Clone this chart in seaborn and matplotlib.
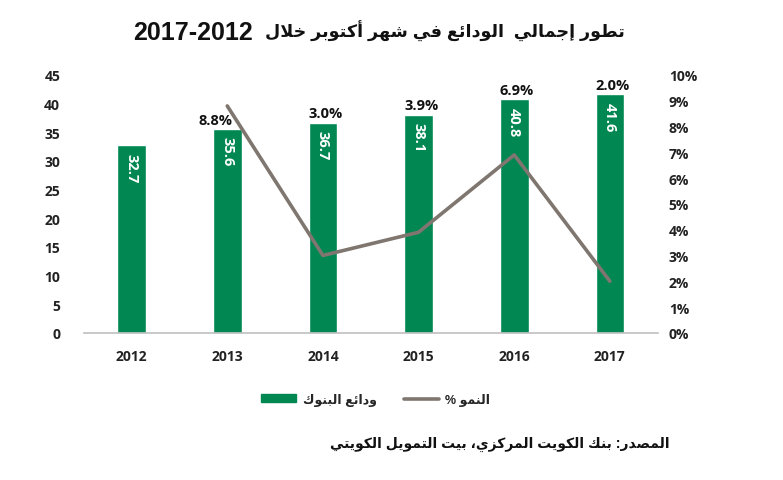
import matplotlib
matplotlib.use("Agg")
import matplotlib.pyplot as plt
import seaborn as sns
import pandas as pd
from matplotlib.lines import Line2D
from matplotlib.patches import Patch

sns.set_theme(style="white")
plt.rcParams['font.family'] = ['Open Sans', 'DejaVu Sans']

# data
years = ["2012", "2013", "2014", "2015", "2016", "2017"]
deposits = [32.7, 35.6, 36.7, 38.1, 40.8, 41.6]
growth_years = ["2013", "2014", "2015", "2016", "2017"]
growth = [8.8, 3.0, 3.9, 6.9, 2.0]
left_ticks = list(range(0, 50, 5))
right_ticks = list(range(0, 11))

title_ar = "تطور إجمالي  الودائع في شهر أكتوبر خلال"
title_years = "2017-2012"
legend_bars = "ودائع البنوك"
legend_line = "النمو"
source_ar = "المصدر: بنك الكويت المركزي، بيت التمويل الكويتي"

GREEN = "#018752"
GREY = "#7E766F"

# small arabic shaper (matplotlib has no bidi / joining support)
_forms = {
    'ء': (0xFE80, False), 'آ': (0xFE81, False), 'أ': (0xFE83, False),
    'ؤ': (0xFE85, False), 'إ': (0xFE87, False), 'ئ': (0xFE89, True),
    'ا': (0xFE8D, False), 'ب': (0xFE8F, True), 'ة': (0xFE93, False),
    'ت': (0xFE95, True), 'ث': (0xFE99, True), 'ج': (0xFE9D, True),
    'ح': (0xFEA1, True), 'خ': (0xFEA5, True), 'د': (0xFEA9, False),
    'ذ': (0xFEAB, False), 'ر': (0xFEAD, False), 'ز': (0xFEAF, False),
    'س': (0xFEB1, True), 'ش': (0xFEB5, True), 'ص': (0xFEB9, True),
    'ض': (0xFEBD, True), 'ط': (0xFEC1, True), 'ظ': (0xFEC5, True),
    'ع': (0xFEC9, True), 'غ': (0xFECD, True), 'ف': (0xFED1, True),
    'ق': (0xFED5, True), 'ك': (0xFED9, True), 'ل': (0xFEDD, True),
    'م': (0xFEE1, True), 'ن': (0xFEE5, True), 'ه': (0xFEE9, True),
    'و': (0xFEED, False), 'ى': (0xFEEF, False), 'ي': (0xFEF1, True),
}
_lamalef = {'آ': 0xFEF5, 'أ': 0xFEF7, 'إ': 0xFEF9, 'ا': 0xFEFB}


def rtl(text):
    out = []
    i = 0
    n = len(text)
    while i < n:
        c = text[i]
        if c not in _forms:
            out.append(c)
            i += 1
            continue
        prev_joins = i > 0 and text[i - 1] in _forms and _forms[text[i - 1]][1]
        if c == 'ل' and i + 1 < n and text[i + 1] in _lamalef:
            out.append(chr(_lamalef[text[i + 1]] + (1 if prev_joins else 0)))
            i += 2
            continue
        base, dual = _forms[c]
        next_joins = dual and i + 1 < n and text[i + 1] in _forms
        if prev_joins and next_joins:
            off = 3
        elif prev_joins:
            off = 1
        elif next_joins:
            off = 2
        else:
            off = 0
        out.append(chr(base + off))
        i += 1
    return ''.join(reversed(out))


AR = ['Liberation Sans', 'DejaVu Sans']

df = pd.DataFrame({"year": years, "deposits": deposits})

fig = plt.figure(figsize=(7.83, 4.81), dpi=100)
ax = fig.add_axes([0.107, 0.306, 0.733, 0.536])
sns.barplot(data=df, x="year", y="deposits", color=GREEN, width=0.3,
            saturation=1, ax=ax)
ax.set_xlim(-0.5, 5.5)
ax.set_ylim(0, 45)
ax.set_yticks(left_ticks)
ax.set_xlabel("")
ax.set_ylabel("")
for s in ["top", "left", "right"]:
    ax.spines[s].set_visible(False)
ax.spines["bottom"].set_color("#BFBFBF")
ax.spines["bottom"].set_linewidth(1.2)
ax.tick_params(axis="both", length=0, labelsize=10, colors="#222222")
ax.tick_params(axis="x", pad=12)
ax.tick_params(axis="y", pad=17)
for lab in ax.get_xticklabels() + ax.get_yticklabels():
    lab.set_fontweight("bold")

for i, v in enumerate(deposits):
    ax.text(i, v - 1.3, f"{v:.1f}", rotation=-90, ha="center", va="top",
            color="white", fontsize=10.5, fontweight="bold")

ax2 = ax.twinx()
gx = [years.index(y) for y in growth_years]
sns.lineplot(x=gx, y=growth, color=GREY, linewidth=2.6, ax=ax2)
ax2.set_ylim(0, 10)
ax2.set_yticks(right_ticks)
ax2.set_yticklabels([f"{t}%" for t in right_ticks])
for s in ["top", "left", "right", "bottom"]:
    ax2.spines[s].set_visible(False)
ax2.tick_params(axis="y", length=0, labelsize=10, colors="#222222", pad=8)
for lab in ax2.get_yticklabels():
    lab.set_fontweight("bold")

for x, g in zip(gx, growth):
    dx = -0.12 if x == 1 else 0.03
    ax.text(x + dx, deposits[x] + 0.4, f"{g:.1f}%", ha="center", va="bottom",
            color="#111111", fontsize=10.5, fontweight="bold")

# title: year range on the left, arabic part on the right
fig.text(0.170, 0.931, title_years, ha="left", va="center",
         fontsize=18, fontweight="bold", family=AR, color="#111111")
fig.text(0.798, 0.934, rtl(title_ar), ha="right", va="center",
         fontsize=12.6, fontweight="bold", family=AR, color="#111111")

handles = [Patch(facecolor=GREEN, edgecolor=GREEN),
           Line2D([0], [0], color=GREY, linewidth=2.6)]
labels = [rtl(legend_bars), "% " + rtl(legend_line)]
leg = fig.legend(handles, labels, loc="center", bbox_to_anchor=(0.48, 0.168),
                 ncol=2, frameon=False, handlelength=2.8, handleheight=0.6,
                 columnspacing=2.2, handletextpad=0.5,
                 prop={"family": AR, "weight": "bold", "size": 9})

fig.text(0.855, 0.077, rtl(source_ar), ha="right", va="center", fontsize=10,
         fontweight="bold", family=AR, color="#111111")

fig.savefig("out.png", dpi=100)
